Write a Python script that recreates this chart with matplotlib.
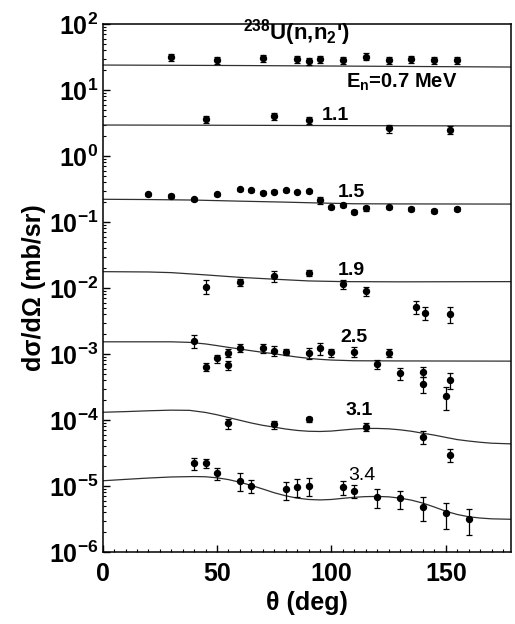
import matplotlib
matplotlib.use("Agg")
import matplotlib.pyplot as plt
from matplotlib.ticker import FixedLocator, LogLocator, NullFormatter, MultipleLocator
import numpy as np

plt.rcParams['font.family'] = ['Liberation Sans', 'DejaVu Sans']
plt.rcParams['mathtext.fontset'] = 'custom'
plt.rcParams['mathtext.rm'] = 'Liberation Sans'
plt.rcParams['mathtext.it'] = 'Liberation Sans:italic'
plt.rcParams['mathtext.bf'] = 'Liberation Sans:bold'

# ---------------- data ----------------
# experimental points: angle (deg), value (mb/sr), relative error
ang_07 = [30, 50, 70, 85, 90, 95, 105, 115, 125, 135, 145, 155]
val_07 = [31.3, 28.5, 30.2, 29.5, 27.5, 29.5, 28.5, 32.0, 28.5, 29.2, 28.5, 28.5]
err_07 = [0.12] * 12

ang_11 = [45, 75, 90, 125, 152]
val_11 = [3.60, 4.04, 3.51, 2.63, 2.48]
err_11 = [0.12, 0.12, 0.12, 0.14, 0.14]

ang_15 = [20, 30, 40, 50, 60, 65, 70, 75, 80, 85, 90, 95, 100, 105, 110, 115, 125, 135, 145, 155]
val_15 = [0.263, 0.250, 0.221, 0.263, 0.313, 0.305, 0.278, 0.288, 0.305, 0.285,
          0.292, 0.216, 0.167, 0.181, 0.143, 0.161, 0.167, 0.156, 0.147, 0.156]
err_15 = [0.06, 0.06, 0.06, 0.06, 0.05, 0.05, 0.06, 0.06, 0.05, 0.05,
          0.06, 0.12, 0.06, 0.06, 0.08, 0.08, 0.06, 0.07, 0.07, 0.07]

ang_19 = [45, 60, 75, 90, 105, 115, 137, 141, 152]
val_19 = [0.0105, 0.0124, 0.0153, 0.0171, 0.0115, 0.0090, 0.00521, 0.00423, 0.00403]
err_19 = [0.24, 0.12, 0.18, 0.10, 0.15, 0.16, 0.22, 0.22, 0.26]

ang_25 = [40, 45, 50, 55, 55, 60, 70, 75, 80, 90, 95, 100, 110, 120, 125, 130, 140, 140, 150, 152]
val_25 = [0.00159, 0.000643, 0.000861, 0.00103, 0.000681, 0.00125, 0.00122, 0.00112,
          0.00108, 0.00103, 0.00122, 0.00106, 0.00108, 0.000698, 0.00103, 0.000511,
          0.000540, 0.000351, 0.000231, 0.000404]
err_25 = [0.22, 0.14, 0.14, 0.14, 0.16, 0.14, 0.16, 0.18, 0.10, 0.18, 0.20, 0.14,
          0.18, 0.16, 0.14, 0.22, 0.18, 0.28, 0.38, 0.28]

ang_31 = [55, 75, 90, 115, 140, 152]
val_31 = [8.91e-5, 8.61e-5, 1.025e-4, 7.92e-5, 5.58e-5, 2.95e-5]
err_31 = [0.18, 0.14, 0.10, 0.14, 0.22, 0.22]

ang_34 = [40, 45, 50, 60, 65, 80, 85, 90, 105, 110, 120, 130, 140, 150, 160]
val_34 = [2.21e-5, 2.21e-5, 1.556e-5, 1.202e-5, 1.0e-5, 8.91e-6, 9.75e-6, 1.011e-5,
          9.75e-6, 8.40e-6, 6.89e-6, 6.51e-6, 4.86e-6, 3.85e-6, 3.13e-6]
err_34 = [0.22, 0.16, 0.22, 0.30, 0.22, 0.30, 0.30, 0.30, 0.24, 0.22, 0.32, 0.30,
          0.40, 0.42, 0.42]

# theoretical curves
cang_07 = [0, 60, 120, 178.5]
cval_07 = [23.9, 23.5, 22.9, 22.3]
cang_11 = [0, 60, 120, 178.5]
cval_11 = [2.95, 2.92, 2.88, 2.85]
cang_15 = [0, 20, 40, 60, 80, 95, 110, 130, 178.5]
cval_15 = [0.221, 0.219, 0.215, 0.207, 0.200, 0.194, 0.189, 0.188, 0.187]
cang_19 = [0, 20, 30, 45, 60, 75, 90, 105, 130, 178.5]
cval_19 = [0.0177, 0.0175, 0.0171, 0.0158, 0.0145, 0.0136, 0.0128, 0.0125, 0.0124, 0.0125]
cang_25 = [0, 30, 38, 45, 50, 55, 60, 65, 70, 75, 80, 85, 90, 95, 100, 110, 130, 178.5]
cval_25 = [1.53e-3, 1.53e-3, 1.50e-3, 1.42e-3, 1.34e-3, 1.26e-3, 1.19e-3, 1.12e-3, 1.06e-3,
           1.01e-3, 0.95e-3, 0.90e-3, 0.86e-3, 0.83e-3, 0.81e-3, 0.79e-3, 0.785e-3, 0.78e-3]
cang_31 = [0, 10, 20, 30, 38, 45, 50, 55, 60, 65, 70, 75, 80, 85, 90, 95, 100, 105, 110,
           115, 120, 125, 130, 135, 140, 145, 150, 155, 160, 165, 170, 178.5]
cval_31 = [1.31e-4, 1.34e-4, 1.38e-4, 1.41e-4, 1.40e-4, 1.30e-4, 1.20e-4, 1.09e-4, 9.9e-5,
           9.0e-5, 8.3e-5, 7.8e-5, 7.3e-5, 6.95e-5, 6.75e-5, 6.7e-5, 6.8e-5, 7.05e-5, 7.3e-5,
           7.45e-5, 7.45e-5, 7.35e-5, 7.1e-5, 6.75e-5, 6.3e-5, 5.9e-5, 5.45e-5, 5.05e-5,
           4.8e-5, 4.6e-5, 4.45e-5, 4.35e-5]
cang_34 = [0, 10, 20, 30, 40, 45, 50, 55, 60, 65, 70, 75, 80, 85, 90, 95, 100, 105, 110,
           115, 120, 125, 130, 135, 140, 145, 150, 155, 160, 165, 170, 178.5]
cval_34 = [1.20e-5, 1.26e-5, 1.32e-5, 1.37e-5, 1.39e-5, 1.38e-5, 1.33e-5, 1.25e-5, 1.14e-5,
           1.02e-5, 9.0e-6, 7.9e-6, 7.1e-6, 6.55e-6, 6.25e-6, 6.15e-6, 6.25e-6, 6.5e-6,
           6.75e-6, 6.9e-6, 6.95e-6, 6.85e-6, 6.55e-6, 6.1e-6, 5.5e-6, 4.8e-6, 4.15e-6,
           3.7e-6, 3.42e-6, 3.27e-6, 3.18e-6, 3.13e-6]

energy_labels = ["1.1", "1.5", "1.9", "2.5", "3.1", "3.4"]

# ---------------- figure ----------------
fig = plt.figure(figsize=(5.15, 6.24), dpi=100)
ax = fig.add_axes([0.1994, 0.1154, 0.7928, 0.8461])

curves = [(cang_07, cval_07), (cang_11, cval_11), (cang_15, cval_15), (cang_19, cval_19),
          (cang_25, cval_25), (cang_31, cval_31), (cang_34, cval_34)]
for ca, cv in curves:
    ax.plot(ca, cv, color='#303030', lw=0.9, zorder=2)

points = [(ang_07, val_07, err_07), (ang_11, val_11, err_11), (ang_15, val_15, err_15),
          (ang_19, val_19, err_19), (ang_25, val_25, err_25), (ang_31, val_31, err_31),
          (ang_34, val_34, err_34)]
for a, v, e in points:
    v = np.asarray(v)
    ax.errorbar(a, v, yerr=v * np.asarray(e), fmt='o', color='black', ms=4.3,
                elinewidth=0.9, capsize=2.5, capthick=0.9, zorder=3)

ax.set_yscale('log')
ax.set_xlim(0, 178.5)
ax.set_ylim(1e-6, 1e2)

ax.yaxis.set_major_locator(FixedLocator([10.0 ** k for k in range(-6, 3)]))
ax.set_yticklabels([r'$\mathbf{10^{%d}}$' % k for k in range(-6, 3)])
ax.yaxis.set_minor_locator(LogLocator(base=10, subs=np.arange(2, 10), numticks=20))
ax.yaxis.set_minor_formatter(NullFormatter())
ax.xaxis.set_major_locator(MultipleLocator(50))
ax.xaxis.set_minor_locator(MultipleLocator(5))

ax.tick_params(which='both', direction='in', top=False, right=False)
ax.tick_params(which='major', length=5, width=1.0, labelsize=18)
ax.tick_params(which='minor', length=2.5, width=0.8)
ax.tick_params(axis='x', which='major', pad=7)
ax.tick_params(axis='y', which='major', pad=3)
for lab in ax.get_xticklabels():
    lab.set_fontweight('bold')
for s in ax.spines.values():
    s.set_linewidth(1.1)

ax.set_xlabel('θ (deg)', fontsize=18, fontweight='bold', labelpad=4)
ax.set_ylabel('dσ/dΩ (mb/sr)', fontsize=18, fontweight='bold', labelpad=2)

ax.text(84.5, 73, r"$\mathbf{^{238}}$U(n,n$\mathbf{_2}$')", fontsize=16, fontweight='bold',
        ha='center', va='center')
ax.text(106.5, 10.7, r"E$_\mathbf{n}$=0.7 MeV", fontsize=14.5, fontweight='bold',
        ha='left', va='baseline')
label_pos = [(95.8, 3.51), (102.8, 0.239), (102.8, 0.01574), (104.0, 0.00152),
             (106.3, 1.19e-4), (107.2, 1.23e-5)]
for txt, (x, y) in zip(energy_labels, label_pos):
    ax.text(x, y, txt, fontsize=14, fontweight='bold' if txt != "3.4" else 'normal',
            ha='left', va='baseline')

fig.savefig('out.png', dpi=100)
